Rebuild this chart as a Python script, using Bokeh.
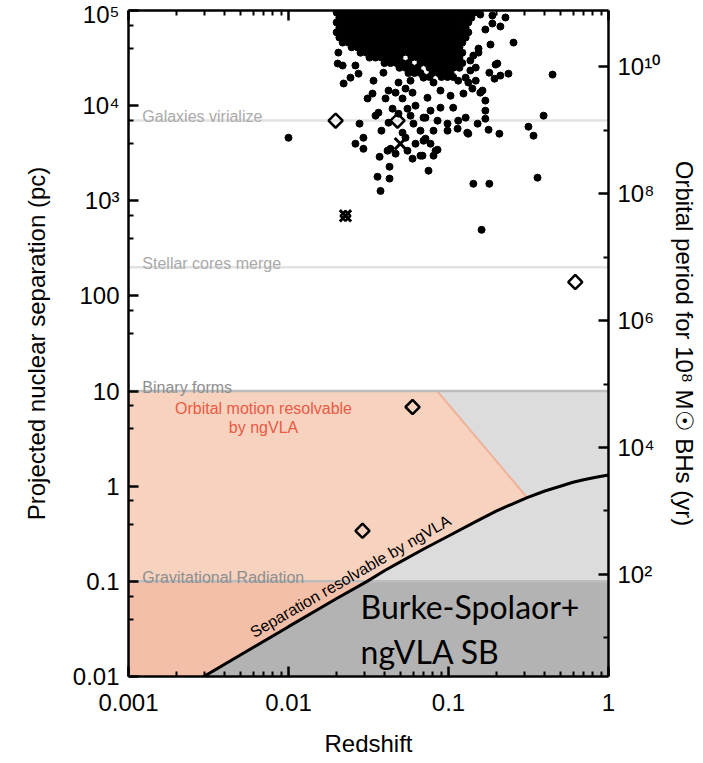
import numpy as np
from bokeh.plotting import figure
from bokeh.models import LogAxis, FixedTicker, CustomJSTickFormatter, Range1d, LogScale
from bokeh.core.properties import value
from bokeh.embed import file_html
from bokeh.resources import INLINE

# ---------------- axes ----------------
X_RANGE = (0.001, 1.0)
Y_RANGE = (0.01, 1e5)
x_tick_values = [0.001, 0.01, 0.1, 1.0]
x_tick_labels = ["0.001", "0.01", "0.1", "1"]
x_minor_values = [m * d for d in (0.001, 0.01, 0.1) for m in range(2, 10)]
y_tick_values = [0.01, 0.1, 1, 10, 100, 1e3, 1e4, 1e5]
y_tick_labels = ["0.01", "0.1", "1", "10", "100", "10³", "10⁴", "10⁵"]
y_minor_values = [0.04, 0.07, 0.4, 0.7, 4, 7, 40, 70, 400, 700, 4e3, 7e3, 4e4, 7e4]
period_tick_values = [1e2, 1e4, 1e6, 1e8, 1e10]
period_tick_labels = ["10²", "10⁴", "10⁶", "10⁸", "10¹⁰"]
period_minor_values = [1e1, 1e3, 1e5, 1e7, 1e9]
# orbital period (yr) at 1 pc; Kepler: P ~ a^1.5
PERIOD_AT_1PC = 2450.0
KEPLER_EXP = 1.5

# ---------------- physical milestones ----------------
milestone_sep = [7000, 200, 10, 0.1]
milestone_labels = ["Galaxies virialize", "Stellar cores merge", "Binary forms", "Gravitational Radiation"]

# ---------------- ngVLA resolvable separation curve ----------------
res_z = [0.0029, 0.005, 0.01, 0.02, 0.031, 0.04, 0.05, 0.07, 0.1, 0.15, 0.2, 0.25,
         0.31, 0.4, 0.5, 0.6, 0.7, 0.85, 1.0]
res_sep = [0.0098, 0.0168, 0.0334, 0.066, 0.10, 0.13, 0.16, 0.219, 0.30, 0.43, 0.55, 0.65,
           0.76, 0.89, 1.0, 1.10, 1.17, 1.25, 1.31]

# edge of the "orbital motion resolvable" region
orbit_edge_z = [0.085, 0.31]
orbit_edge_sep = [10, 0.76]

# ---------------- dense cloud of dual AGN (rows) ----------------
cloud_even_z = [0.0200, 0.0218, 0.0237, 0.0259, 0.0282, 0.0307, 0.0335, 0.0365, 0.0398, 0.0434,
                0.0473, 0.0516, 0.0562, 0.0613, 0.0668, 0.0729, 0.0794, 0.0866, 0.0944, 0.103,
                0.112, 0.122, 0.133, 0.145]
cloud_odd_z = [0.0208, 0.0227, 0.0248, 0.0270, 0.0294, 0.0321, 0.0350, 0.0381, 0.0416, 0.0453,
               0.0494, 0.0539, 0.0587, 0.0640, 0.0698, 0.0761, 0.0829, 0.0904, 0.0986, 0.107,
               0.117, 0.128, 0.139]
cloud_row_sep = [9.5e4, 8.4e4, 7.5e4, 6.6e4, 5.9e4, 5.2e4, 4.6e4, 4.1e4, 3.6e4, 3.2e4, 2.8e4, 2.5e4, 2.2e4, 2.0e4]
cloud_row_z = [cloud_even_z[0:24], cloud_odd_z[0:23], cloud_even_z[0:23], cloud_odd_z[0:22],
               cloud_even_z[0:23], cloud_odd_z[0:22], cloud_even_z[1:22], cloud_odd_z[2:21],
               cloud_even_z[4:22], cloud_odd_z[5:11] + cloud_odd_z[12:21],
               cloud_even_z[8:13] + cloud_even_z[14:22], cloud_odd_z[10:14] + cloud_odd_z[15:21],
               cloud_even_z[12:15] + cloud_even_z[16:20], cloud_odd_z[14:16] + cloud_odd_z[17:20]]

# ---------------- individual dual AGN ----------------
dots_z = [0.0100, 0.0205, 0.0203, 0.0218, 0.0221, 0.0244, 0.0274, 0.0262, 0.0340, 0.0392,
          0.0335, 0.0312, 0.0422, 0.0404, 0.0365, 0.0350, 0.0516, 0.0447, 0.0487, 0.0554,
          0.0579, 0.0622, 0.0422, 0.0381, 0.0516, 0.0539, 0.0434, 0.0416, 0.0467, 0.0554,
          0.0596, 0.0668, 0.0371, 0.0428, 0.0360, 0.0428, 0.0376, 0.0294, 0.0294, 0.0262,
          0.0278, 0.0750, 0.0854, 0.143, 0.180, 0.208, 0.178, 0.255, 0.183, 0.197,
          0.131, 0.152, 0.170, 0.170, 0.158, 0.148, 0.148, 0.143, 0.154, 0.158,
          0.188, 0.227, 0.188, 0.211, 0.170, 0.202, 0.180, 0.194, 0.211, 0.237,
          0.163, 0.170, 0.133, 0.0806, 0.0688, 0.0698, 0.0806, 0.0891, 0.0739, 0.103,
          0.124, 0.141, 0.107, 0.0891, 0.0772, 0.0698, 0.0854, 0.0986, 0.115, 0.128,
          0.114, 0.0986, 0.0806, 0.0718, 0.0772, 0.0830, 0.137, 0.154, 0.137, 0.128,
          0.133, 0.115, 0.0604, 0.0668, 0.0718, 0.0698, 0.0622, 0.447, 0.393, 0.316,
          0.340, 0.360, 0.161, 0.0487, 0.0539, 0.0596, 0.0467, 0.0579]
dots_sep = [4600, 3.61e4, 2.77e4, 2.64e4, 1.71e4, 1.97e4, 2.17e4, 2.64e4, 1.83e4, 2.22e4,
            1.34e4, 1.19e4, 1.44e4, 1.19e4, 8430, 7850, 1.19e4, 9290, 8240, 9290,
            7850, 1.0e4, 6620, 5460, 5200, 4600, 3520, 3360, 3130, 3360,
            2770, 2980, 2900, 2280, 1790, 1710, 1270, 4600, 3520, 3980,
            6470, 2070, 3440, 1510, 1510, 5070, 5580, 4.6e4, 4.39e4, 2.7e4,
            5200, 6470, 8860, 1.13e4, 1.37e4, 1.83e4, 2.51e4, 3.36e4, 3.98e4, 9.07e4,
            8.86e4, 8.44e4, 7.3e4, 6.79e4, 6.31e4, 2.77e4, 2.22e4, 1.92e4, 2.07e4, 2.17e4,
            1.44e4, 7290, 5070, 2980, 2980, 1.97e4, 1.75e4, 1.44e4, 1.21e4, 1.27e4,
            1.34e4, 1.51e4, 9520, 9520, 8860, 7480, 6950, 6470, 6950, 7480,
            5730, 5460, 5460, 4500, 3980, 3360, 2.98e4, 3.61e4, 2.34e4, 1.97e4,
            1.75e4, 1.83e4, 6470, 5460, 7480, 4280, 3980, 2.12e4, 7850, 6010,
            4830, 1750, 495, 1.75e4, 1.51e4, 1.37e4, 1.37e4, 1.83e4]
assert len(dots_z) == len(dots_sep)

# candidate binaries / special systems
diamond_z = [0.0197, 0.048, 0.0596, 0.029, 0.62]
diamond_sep = [6950, 6950, 6.8, 0.34, 140]
cross_z = [0.050, 0.0227]
cross_sep = [3980, 695]
cross_diamond_z = [0.0227]
cross_diamond_sep = [695]

# ---------------- figure ----------------
p = figure(width=703, height=763, x_axis_type="log", y_axis_type="log",
           x_range=Range1d(*X_RANGE), y_range=Range1d(*Y_RANGE),
           output_backend="svg", toolbar_location=None,
           min_border_left=128, min_border_right=95, min_border_top=10, min_border_bottom=87,
           background_fill_color="white", border_fill_color="white")
p.outline_line_color = None
p.grid.visible = False

FONT = "Liberation Sans"


def style_axis(ax):
    ax.axis_line_width = 2.5
    ax.axis_line_color = "black"
    ax.major_tick_in = 10
    ax.major_tick_out = 0
    ax.minor_tick_in = 5
    ax.minor_tick_out = 0
    ax.major_tick_line_width = 2.5
    ax.minor_tick_line_width = 2
    ax.major_tick_line_color = "black"
    ax.minor_tick_line_color = "black"
    ax.major_label_text_font = FONT
    ax.major_label_text_font_size = "24px"
    ax.major_label_text_color = "black"
    ax.axis_label_text_font = FONT
    ax.axis_label_text_font_size = "24px"
    ax.axis_label_text_font_style = "normal"
    ax.axis_label_text_color = "black"


def label_formatter(vals, labs):
    return CustomJSTickFormatter(args=dict(vals=list(vals), labs=list(labs)), code="""
        let best = 0, bd = Infinity;
        for (let i = 0; i < vals.length; i++) {
            const d = Math.abs(Math.log10(vals[i]) - Math.log10(tick));
            if (d < bd) { bd = d; best = i; }
        }
        return labs[best];
    """)


xax = p.xaxis[0]
xax.ticker = FixedTicker(ticks=x_tick_values, minor_ticks=x_minor_values)
xax.formatter = label_formatter(x_tick_values, x_tick_labels)
xax.axis_label = "Redshift"
style_axis(xax)
xax.major_label_standoff = 17
xax.axis_label_standoff = 16

yax = p.yaxis[0]
yax.ticker = FixedTicker(ticks=y_tick_values, minor_ticks=y_minor_values)
yax.formatter = label_formatter(y_tick_values, y_tick_labels)
yax.axis_label = "Projected nuclear separation (pc)"
style_axis(yax)
yax.major_label_standoff = 9
yax.axis_label_standoff = 20

top_ax = LogAxis(ticker=FixedTicker(ticks=x_tick_values, minor_ticks=x_minor_values),
                 formatter=CustomJSTickFormatter(code="return '';"))
style_axis(top_ax)
top_ax.major_label_text_font_size = "0px"
top_ax.major_label_standoff = 0
p.add_layout(top_ax, "above")

p.extra_y_ranges = {"period": Range1d(PERIOD_AT_1PC * Y_RANGE[0] ** KEPLER_EXP,
                                      PERIOD_AT_1PC * Y_RANGE[1] ** KEPLER_EXP)}
p.extra_y_scales = {"period": LogScale()}
right_ax = LogAxis(y_range_name="period",
                   ticker=FixedTicker(ticks=period_tick_values, minor_ticks=period_minor_values),
                   formatter=label_formatter(period_tick_values, period_tick_labels),
                   axis_label="Orbital period for 10⁸ M☉ BHs (yr)")
style_axis(right_ax)
right_ax.major_label_standoff = 9
right_ax.axis_label_standoff = 8
p.add_layout(right_ax, "right")

# ---------------- shaded regions ----------------
sep_binary = milestone_sep[2]
sep_gw = milestone_sep[3]
rz = np.array(res_z)
rs = np.array(res_sep)

p.quad(left=[X_RANGE[0]], right=[X_RANGE[1]], bottom=[sep_gw], top=[sep_binary],
       fill_color="#dcdcdc", line_color=None)
p.quad(left=[X_RANGE[0]], right=[X_RANGE[1]], bottom=[Y_RANGE[0]], top=[sep_gw],
       fill_color="#b3b3b3", line_color=None)

# light orange: above curve, left of the orbit edge, between GW and binary lines
m = (rs >= sep_gw) & (rz <= orbit_edge_z[1])
lo_x = [X_RANGE[0], orbit_edge_z[0], orbit_edge_z[1]] + list(rz[m][::-1]) + [X_RANGE[0]]
lo_y = [sep_binary, orbit_edge_sep[0], orbit_edge_sep[1]] + list(rs[m][::-1]) + [sep_gw]
p.patch(lo_x, lo_y, fill_color="#f6d2bf", line_color=None)

# darker orange: below GW line, left of the curve
m2 = rs <= sep_gw
do_x = [X_RANGE[0]] + list(rz[m2][::-1]) + [X_RANGE[0]]
do_y = [sep_gw] + list(rs[m2][::-1]) + [Y_RANGE[0]]
p.patch(do_x, do_y, fill_color="#f3bfa8", line_color=None)

p.line(orbit_edge_z, orbit_edge_sep, line_color="#f0b198", line_width=2)

# ---------------- milestone lines ----------------
line_colors = ["#e2e2e2", "#e2e2e2", "#bdbdbd", "#bdbdbd"]
text_colors = ["#aaaaaa", "#aaaaaa", "#8e8e8e", "#8e8e8e"]
for s, lc in zip(milestone_sep, line_colors):
    p.line([X_RANGE[0], X_RANGE[1]], [s, s], line_color=lc, line_width=2.5)
p.text(x=[0.00122] * len(milestone_sep), y=milestone_sep, text=milestone_labels,
       text_color=text_colors, text_font=value(FONT), text_font_size="16px",
       text_baseline="alphabetic", text_align="left", y_offset=-4)

# ---------------- resolvable-separation curve ----------------
p.line(res_z, res_sep, line_color="black", line_width=3)

# ---------------- data points ----------------
cz = [z for row in cloud_row_z for z in row]
cs = [s for row, s in zip(cloud_row_z, cloud_row_sep) for _ in row]
p.scatter(cz, cs, size=7, marker="circle", fill_color="black", line_color="black")
p.scatter(dots_z, dots_sep, size=7, marker="circle", fill_color="black", line_color="black")
p.scatter(diamond_z, diamond_sep, size=10, marker="square", angle=0.785, fill_alpha=0,
          line_color="black", line_width=2.5)
p.scatter(cross_z, cross_sep, size=16, marker="x", line_color="black", line_width=3)
p.scatter(cross_diamond_z, cross_diamond_sep, size=7, marker="square", angle=0.785,
          fill_alpha=0, line_color="black", line_width=2.5)

# ---------------- annotations ----------------
p.text(x=[0.00698, 0.00698], y=[6.6, 4.1], text=["Orbital motion resolvable", "by ngVLA"],
       text_color="#ea5a45", text_font=value(FONT), text_font_size="16px",
       text_align="center", text_baseline="middle")
p.text(x=[0.0244], y=[0.113], text=["Separation resolvable by ngVLA"], angle=0.523,
       text_color="black", text_font=value(FONT), text_font_size="16px",
       text_align="center", text_baseline="middle")
p.text(x=[0.0282, 0.0282], y=[0.0546, 0.0183], text=["Burke-Spolaor+", "ngVLA SB"],
       text_color="black", text_font=value("Lato"), text_font_size="32px",
       text_align="left", text_baseline="middle")

open("out.html", "w").write(file_html(p, INLINE))
